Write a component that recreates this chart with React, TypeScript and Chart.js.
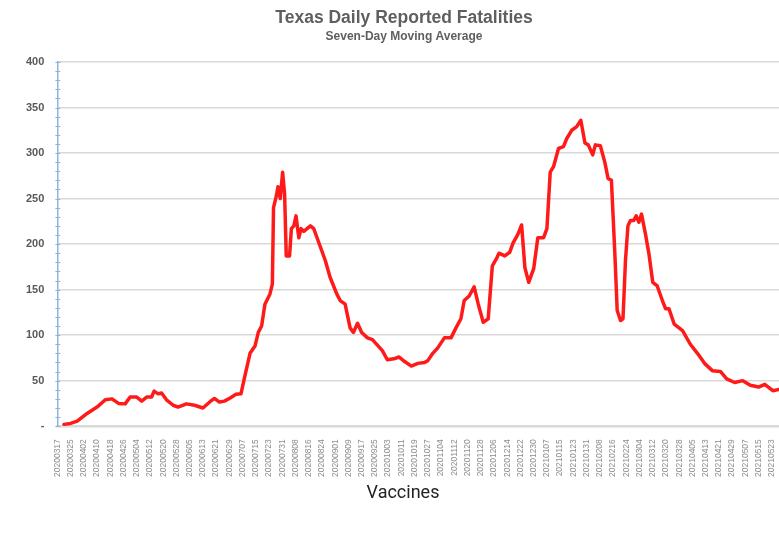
import { useEffect, useRef } from "react";
import { Chart, registerables } from "chart.js";

Chart.register(...registerables);

// Days since 2020-03-17 for each reading
const dayIndex = [
  4, 8, 12, 18, 24, 29, 33, 37, 41, 44, 48, 51, 54, 57, 58.5, 61, 63, 66, 70, 73,
  78, 83, 88, 93, 95, 98, 101, 104.5, 108, 111, 113.5, 116.5, 119.5, 121.5, 123.5,
  125.5, 128.5, 130, 130.7, 132.3, 133.4, 134.8, 136.2, 137.4, 138.4, 140.4, 141.5,
  143, 144.3, 146, 147.4, 149, 153, 155, 158, 162, 165, 169, 171, 174, 177, 179,
  181.5, 184, 187.5, 190.5, 193.5, 196.5, 199.5, 203.5, 206.5, 210, 214, 218, 222,
  224, 227, 230, 234, 238, 241, 244, 246, 249, 252, 254.5, 257.5, 260.5, 263,
  265.5, 267, 270.5, 273.5, 275.5, 278.5, 280.7, 282.7, 285, 288, 290.5, 294, 296,
  298, 300, 303, 306, 308, 311, 314, 316.5, 319, 321, 323.7, 325.3, 328.3, 331, 333,
  335, 337, 338.5, 340.5, 342, 343.5, 345, 346.5, 348.5, 350, 351.6, 353.2, 355.6,
  357.7, 360, 362.7, 365.8, 367.8, 369.8, 373, 378, 382.7, 387, 391.3, 396, 401,
  404.7, 409.5, 414.4, 419, 424, 427.7, 432.6, 438, 445,
];

// Seven-day moving average of reported fatalities
const fatalities = [
  2, 3, 5.5, 14, 21, 29, 30, 25, 24.5, 32, 32, 27.5, 32, 32, 38.5, 35.5, 36.5, 29, 23, 21,
  24.5, 23, 20, 28, 30.5, 26.5, 27.5, 31, 35, 35.5, 56, 80, 88, 103, 110,
  134, 145, 156, 240, 252, 263, 250, 279, 255, 187, 187, 217,
  220, 231, 207, 217, 214, 220, 217, 202, 182, 163, 145, 138, 134, 108, 103,
  113, 103, 97, 95, 89, 83, 73, 74, 76, 71, 66, 69, 70,
  72, 80, 86, 97, 97, 108, 118, 138, 143, 153, 134, 114, 118, 176,
  184, 190, 187, 191, 201, 211, 221, 174, 158, 173, 207, 207, 217,
  279, 285, 305, 307, 316, 325, 329, 336, 311, 309, 298, 309, 308, 290, 272,
  270, 193, 127, 116, 118, 182, 220, 226, 226, 231, 224, 233, 211,
  189, 158, 154, 138, 129, 129, 112, 105, 90, 80, 69, 61, 60,
  52, 48, 50, 45, 43, 46, 39, 41, 40,
];

const tickLabels = [
  "20200317", "20200325", "20200402", "20200410", "20200418", "20200426", "20200504",
  "20200512", "20200520", "20200528", "20200605", "20200613", "20200621", "20200629",
  "20200707", "20200715", "20200723", "20200731", "20200808", "20200816", "20200824",
  "20200901", "20200909", "20200917", "20200925", "20201003", "20201011", "20201019",
  "20201027", "20201104", "20201112", "20201120", "20201128", "20201206", "20201214",
  "20201222", "20201230", "20210107", "20210115", "20210123", "20210131", "20210208",
  "20210216", "20210224", "20210304", "20210312", "20210320", "20210328", "20210405",
  "20210413", "20210421", "20210429", "20210507", "20210515", "20210523", "20210531",
];

const yTickValues = [0, 50, 100, 150, 200, 250, 300, 350, 400];

export default function App() {
  const ref = useRef<HTMLCanvasElement>(null);

  useEffect(() => {
    if (!ref.current) return;
    const minorTicks = {
      id: "minorTicks",
      afterDraw(chart: any) {
        const y = chart.scales.y;
        const ctx = chart.ctx;
        ctx.save();
        ctx.strokeStyle = "#8db4e2";
        ctx.lineWidth = 1;
        for (let v = 0; v <= 400; v += 10) {
          const py = Math.round(y.getPixelForValue(v)) + 0.5;
          ctx.beginPath();
          ctx.moveTo(y.right - 2, py);
          ctx.lineTo(y.right + 3, py);
          ctx.stroke();
        }
        ctx.restore();
      },
    };
    const chart = new Chart(ref.current, {
      type: "line",
      data: {
        datasets: [
          {
            label: "Seven-Day Moving Average",
            data: dayIndex.map((d, i) => ({ x: d, y: fatalities[i] })),
            borderColor: "#ff1a1a",
            borderWidth: 3.5,
            pointRadius: 0,
            tension: 0,
            borderJoinStyle: "round",
            borderCapStyle: "round",
          },
        ],
      },
      options: {
        animation: false,
        responsive: false,
        events: [],
        layout: { padding: { left: 13, right: 11, top: 0, bottom: 2 } },
        plugins: {
          legend: { display: false },
          tooltip: { enabled: false },
          title: {
            display: true,
            text: "Texas Daily Reported Fatalities",
            color: "#5f5f5f",
            font: { family: "'Liberation Sans', Arial, sans-serif", size: 17.5, weight: "bold" },
            padding: { top: 7.5, bottom: 0 },
          },
          subtitle: {
            display: true,
            text: "Seven-Day Moving Average",
            color: "#5f5f5f",
            font: { family: "'Liberation Sans', Arial, sans-serif", size: 12, weight: "bold" },
            padding: { top: 1.3, bottom: 17.8 },
          },
        },
        scales: {
          x: {
            type: "linear",
            min: 0,
            max: 446,
            grid: { display: false },
            border: { display: true, color: "#d9d9d9", width: 2.5 },
            ticks: {
              stepSize: 8,
              includeBounds: false,
              autoSkip: false,
              maxRotation: 90,
              minRotation: 90,
              padding: 5,
              color: "#8c8c8c",
              font: { family: "'Liberation Sans', Arial, sans-serif", size: 8.5 },
              callback: (v: any) => tickLabels[Math.round(Number(v) / 8)] ?? "",
            },
          },
          y: {
            min: 0,
            max: 400,
            afterBuildTicks: (axis: any) => {
              axis.ticks = yTickValues.map((v) => ({ value: v }));
            },
            grid: { color: "#d9d9d9", lineWidth: 1.5, drawTicks: false },
            border: { display: true, color: "#8db4e2", width: 1.5 },
            ticks: {
              padding: 13,
              color: "#595959",
              font: { family: "'Liberation Sans', Arial, sans-serif", size: 11, weight: "bold" },
              callback: (v: any) => (Number(v) === 0 ? "-" : String(v)),
            },
          },
        },
      },
      plugins: [minorTicks],
    });
    return () => chart.destroy();
  }, []);

  return (
    <div
      style={{
        position: "fixed",
        left: 0,
        top: 0,
        width: 779,
        height: 534,
        overflow: "hidden",
        background: "#ffffff",
      }}
    >
      <canvas ref={ref} width={806} height={484} style={{ position: "absolute", left: 0, top: 0 }} />
      <div
        style={{
          position: "absolute",
          top: 481,
          left: 0,
          width: 806,
          textAlign: "center",
          fontSize: 18,
          fontFamily: "'Liberation Sans Narrow', Roboto, sans-serif",
          color: "#222222",
        }}
      >
        Vaccines
      </div>
    </div>
  );
}
